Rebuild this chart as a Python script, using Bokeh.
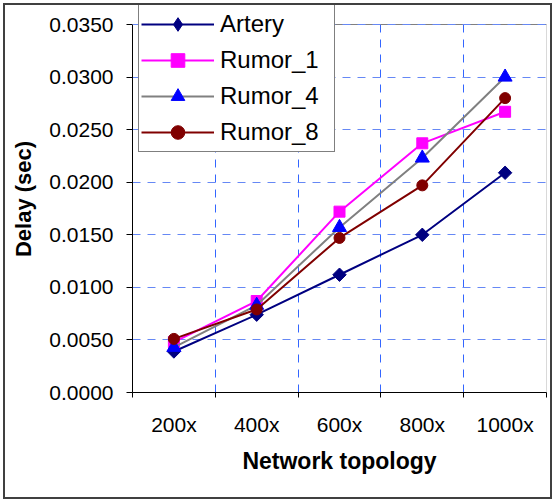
import math
from bokeh.plotting import figure
from bokeh.models import (FixedTicker, NumeralTickFormatter, Range1d, Legend, LegendItem,
                          Span, BoxAnnotation)
from bokeh.embed import file_html
from bokeh.resources import INLINE

# ---- data ----
categories = ["200x", "400x", "600x", "800x", "1000x"]
artery = [0.0039, 0.0074, 0.0112, 0.0150, 0.0209]
rumor_1 = [0.0048, 0.0087, 0.0172, 0.0237, 0.0267]
rumor_4 = [0.0043, 0.0083, 0.0157, 0.0223, 0.0300]
rumor_8 = [0.0051, 0.0079, 0.0147, 0.0197, 0.0280]
series_names = ["Artery", "Rumor_1", "Rumor_4", "Rumor_8"]
y_ticks = [0.0, 0.005, 0.010, 0.015, 0.020, 0.025, 0.030, 0.035]
y_max = 0.035

FONT = "Liberation Sans"
W, H = 555, 502

# the frame reaches a little above y_max so that the legend box can stick out above it
frame_top_px, axis_top_px, axis_bottom_px = 5, 24, 392
y_end = y_max * (axis_bottom_px - frame_top_px) / (axis_bottom_px - axis_top_px)

p = figure(width=W, height=H, output_backend="svg", toolbar_location=None,
           x_range=Range1d(0, len(categories)), y_range=Range1d(0, y_end),
           min_border_left=132, min_border_right=9, min_border_top=frame_top_px,
           min_border_bottom=H - axis_bottom_px)
p.background_fill_color = "white"
# transparent border area so that the page element's frame shows through
p.border_fill_alpha = 0
p.outline_line_color = None
p.styles = {
    "background-color": "white",
    "box-shadow": "inset 0 0 0 3px white, inset 0 0 0 5px #404040",
}

xs = [i + 0.5 for i in range(len(categories))]

# x axis
p.xaxis.ticker = FixedTicker(ticks=xs, minor_ticks=list(range(len(categories) + 1)))
p.xaxis.major_label_overrides = {x: c for x, c in zip(xs, categories)}
p.xaxis.major_tick_line_color = None
p.xaxis.major_tick_out = 5
p.xaxis.major_tick_in = 0
p.xaxis.minor_tick_line_color = "black"
p.xaxis.minor_tick_out = 5
p.xaxis.minor_tick_in = 0
p.xaxis.axis_line_color = "black"
p.xaxis.major_label_text_font = FONT
p.xaxis.major_label_text_font_size = "21px"
p.xaxis.major_label_text_color = "black"
p.xaxis.major_label_standoff = 15
p.xaxis.axis_label = "Network topology"
p.xaxis.axis_label_text_font = FONT
p.xaxis.axis_label_text_font_size = "23px"
p.xaxis.axis_label_text_font_style = "bold"
p.xaxis.axis_label_text_color = "black"
p.xaxis.axis_label_standoff = 9

# y axis
p.yaxis.ticker = FixedTicker(ticks=y_ticks)
p.yaxis.bounds = (0, y_max)
p.yaxis.formatter = NumeralTickFormatter(format="0.0000")
p.yaxis.major_tick_line_color = "black"
p.yaxis.major_tick_out = 6
p.yaxis.major_tick_in = 0
p.yaxis.minor_tick_line_color = None
p.yaxis.axis_line_color = "black"
p.yaxis.major_label_text_font = FONT
p.yaxis.major_label_text_font_size = "21px"
p.yaxis.major_label_text_color = "black"
p.yaxis.major_label_standoff = 13
p.yaxis.axis_label = "Delay (sec)"
p.yaxis.axis_label_text_font = FONT
p.yaxis.axis_label_text_font_size = "22px"
p.yaxis.axis_label_text_font_style = "bold"
p.yaxis.axis_label_text_color = "black"
p.yaxis.axis_label_standoff = 10

# grids
p.xgrid.ticker = FixedTicker(ticks=list(range(1, len(categories))))
p.xgrid.grid_line_color = "#3366FF"
p.xgrid.grid_line_dash = "8 7"
p.xgrid.grid_line_width = 1
p.ygrid.grid_line_color = "#6688F5"
p.ygrid.grid_line_dash = "8 7"
p.ygrid.grid_line_width = 1

# blank band above the plot area (hides the grid there)
p.add_layout(BoxAnnotation(bottom=y_max, fill_color="white", fill_alpha=1.0,
                           line_color=None, level="glyph"))
# plot area border: grey top, black right
p.add_layout(BoxAnnotation(left=0, right=len(categories), bottom=0, top=y_max,
                           fill_alpha=0, line_color="black", line_width=1))
p.add_layout(Span(location=y_max, dimension="width", line_color="#808080", line_width=1))
p.add_layout(Span(location=y_max, dimension="width", line_color="#6688F5",
                  line_width=1, line_dash="8 7"))

# series
styles = [
    (artery, "#000080", "square", "#000080", 9.5, math.pi / 4),
    (rumor_1, "#FF00FF", "square", "#FF00FF", 11, 0.0),
    (rumor_4, "#808080", "triangle", "#0000FF", 14, 0.0),
    (rumor_8, "#800000", "circle", "#800000", 11, 0.0),
]
items = []
for name, (vals, lc, mk, mc, sz, ang) in zip(series_names, styles):
    rl = p.line(xs, vals, line_color=lc, line_width=2)
    rm = p.scatter(xs, vals, marker=mk, size=sz, angle=ang,
                   fill_color=mc, line_color=mc)
    legend_renderers = [rl, rm]
    if ang != 0.0:
        # legend markers are drawn unrotated: give the legend a diamond-shaped key
        rk = p.scatter(xs, vals, marker="diamond", size=0, fill_color=mc, line_color=mc)
        legend_renderers = [rl, rk]
    items.append(LegendItem(label=name, renderers=legend_renderers))

legend = Legend(items=items, location=(6, 240), orientation="vertical",
                padding=2, spacing=2, margin=0,
                glyph_width=73, glyph_height=34, label_height=34,
                label_width=112, label_standoff=6,
                label_text_font=FONT, label_text_font_size="24px",
                label_text_color="black",
                border_line_color="black", border_line_width=1,
                background_fill_color="white", background_fill_alpha=1.0)
p.add_layout(legend, "center")

open("out.html", "w").write(file_html(p, INLINE))
